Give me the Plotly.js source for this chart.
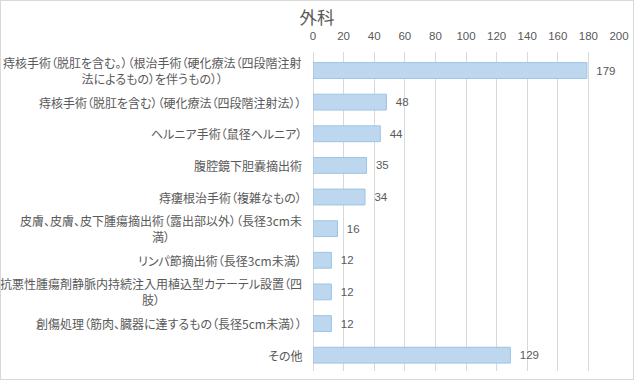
<!DOCTYPE html>
<html>
<head>
<meta charset="utf-8">
<script src="https://cdn.plot.ly/plotly-3.0.1.min.js"></script>
<style>
  html, body { margin: 0; padding: 0; background: #ffffff; }
  #chart { width: 632px; height: 378px; border: 1px solid #d9d9d9; }
  text { font-feature-settings: "palt"; }
</style>
</head>
<body>
<div id="chart"></div>
<script>
const categories = [
  "痔核手術（脱肛を含む。）（根治手術（硬化療法（四段階注射<br>法によるもの）を伴うもの））",
  "痔核手術（脱肛を含む）（硬化療法（四段階注射法））",
  "ヘルニア手術（鼠径ヘルニア）",
  "腹腔鏡下胆嚢摘出術",
  "痔瘻根治手術（複雑なもの）",
  "皮膚、皮膚、皮下腫瘍摘出術（露出部以外）（長径3cm未<br>満）",
  "リンパ節摘出術（長径3cm未満）",
  "抗悪性腫瘍剤静脈内持続注入用植込型カテーテル設置（四<br>肢）",
  "創傷処理（筋肉、臓器に達するもの（長径5cm未満））",
  "その他"
];
const values = [179, 48, 44, 35, 34, 16, 12, 12, 12, 129];
const xTicks = [0, 20, 40, 60, 80, 100, 120, 140, 160, 180, 200];
const chartTitle = "外科";

const textColor = "#595959";
const jp = "Noto Sans CJK JP";

const trace = {
  type: "bar",
  orientation: "h",
  y: categories,
  x: values,
  marker: { color: "#bdd7ee", line: { color: "#9dc3e6", width: 1 } },
  text: values.map(v => "\u00a0\u00a0" + v),
  textposition: "outside",
  cliponaxis: false,
  textfont: { family: "Liberation Sans", size: 11.5, color: textColor },
  hoverinfo: "none"
};

const annotations = categories.map(c => ({
  xref: "paper", yref: "y",
  x: 0, y: c,
  xanchor: "right", yanchor: "middle",
  xshift: -9,
  text: c,
  align: "center",
  showarrow: false,
  font: { family: jp, size: 12, color: textColor }
}));

const layout = {
  width: 632, height: 378,
  margin: { l: 312, r: 14, t: 51, b: 8 },
  paper_bgcolor: "#ffffff",
  plot_bgcolor: "#ffffff",
  showlegend: false,
  bargap: 0.5,
  title: {
    text: chartTitle,
    xref: "container", yref: "container",
    x: 0.5, xanchor: "center",
    y: 1 - 17 / 378, yanchor: "middle",
    font: { family: jp, size: 17.5, color: textColor }
  },
  xaxis: {
    side: "top",
    range: [0, 200],
    tickvals: xTicks,
    ticktext: xTicks.map(String),
    showgrid: true, gridcolor: "#d9d9d9", gridwidth: 1,
    zeroline: true, zerolinecolor: "#d9d9d9", zerolinewidth: 1,
    showline: false,
    ticks: "",
    ticklabelstandoff: 9,
    tickfont: { family: "Liberation Sans", size: 11.5, color: textColor },
    fixedrange: true
  },
  yaxis: {
    type: "category",
    autorange: "reversed",
    showticklabels: false,
    showgrid: false,
    zeroline: false,
    showline: false,
    ticks: "",
    fixedrange: true
  },
  annotations: annotations
};

Plotly.newPlot("chart", [trace], layout, { displayModeBar: false, staticPlot: true });
</script>
</body>
</html>
